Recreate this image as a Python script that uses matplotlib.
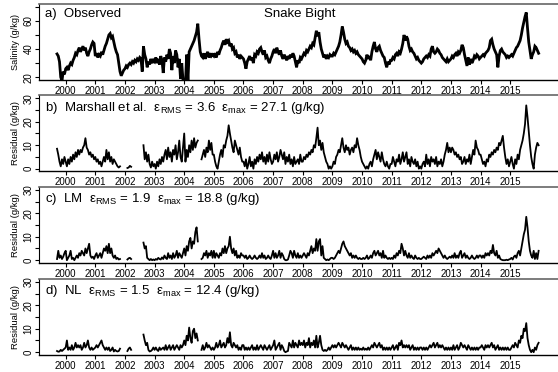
import numpy as np
import matplotlib
matplotlib.use("Agg")
import matplotlib.pyplot as plt

plt.rcParams["font.family"] = ["Liberation Sans", "DejaVu Sans"]
plt.rcParams["mathtext.fontset"] = "custom"
plt.rcParams["mathtext.rm"] = "Liberation Sans"
plt.rcParams["mathtext.it"] = "Liberation Sans:italic"
plt.rcParams["mathtext.bf"] = "Liberation Sans:bold"

nan = float("nan")

# semi-monthly series, first value at 1999 + 17/24
start_year = 1999 + 17 / 24
step = 1 / 24

observed = [
    36.5, 35, 31, 20, 17.5, 24, 22,  # 1999
    26, 27, 25, 28, 30, 29, 32, 34, 37, 36, 39, 41, 38, 40, 42, 39, 41, 37, 35, 38, 40, 43, 45, 44,
    35, 37, 34, 36, 35, 38, 36, 39, 42, 44, 47, 50, 51, 48, 49, 45, 41, 38, 36, 30, 24, 21, 23, 25,
    26, 28, 27, 29, 30, 29, 31, 30, 32, 31, 33, 32, 34, 33, 24, 42, 36, 33, 27, 31, 29, 33, 30, 32,
    31, 34, 30, 33, 29, 35, 32, 23, 34, 31, 36, 33, 40, 37, 25, 35, 30, 39, 36, 27, 33, 19, 30, 18,
    17, 16, 36, 17, 38, 40, 42, 44, 46, 49, 52, 58, 47, 38, 35, 34, 37, 33, 36, 38, 34, 37, 35, 36,
    35, 37, 34, 38, 36, 39, 41, 44, 46, 43, 47, 45, 46, 42, 44, 40, 41, 37, 38, 34, 36, 33, 35, 34,
    33, 30, 26, 31, 33, 35, 32, 34, 30, 36, 35, 38, 37, 40, 41, 38, 36, 39, 34, 35, 32, 30, 33, 35,
    38, 40, 37, 41, 38, 36, 39, 35, 33, 36, 34, 32, 35, 33, 36, 34, 37, 35, 31, 27, 32, 30, 34, 33,
    35, 37, 36, 39, 38, 40, 42, 41, 44, 43, 48, 53, 49, 52, 45, 40, 37, 34, 36, 33, 35, 34, 36, 35,
    35, 37, 36, 38, 40, 42, 45, 50, 56, 52, 47, 44, 45, 42, 41, 39, 40, 38, 39, 37, 38, 36, 35, 34,
    33, 31, 30, 32, 36, 33, 35, 32, 38, 42, 45, 40, 38, 41, 42, 39, 37, 35, 34, 30, 27, 31, 29, 32,
    32, 34, 33, 36, 37, 35, 38, 37, 40, 44, 50, 46, 49, 47, 42, 39, 40, 38, 37, 35, 33, 34, 32, 31,
    30, 31, 33, 34, 35, 34, 36, 35, 40, 42, 38, 37, 38, 40, 39, 37, 36, 34, 33, 32, 31, 33, 31, 32,
    33, 35, 34, 36, 37, 35, 38, 37, 39, 43, 41, 36, 32, 28, 34, 29, 33, 30, 32, 35, 34, 36, 35, 33,
    34, 35, 36, 35, 37, 38, 39, 41, 46, 47, 43, 40, 38, 36, 27, 35, 39, 40, 38, 37, 36, 34, 35, 34,
    35, 36, 35, 37, 39, 41, 42, 44, 46, 50, 55, 59, 63, 66, 55, 45, 39, 33, 36, 38, 42, 41, 39, 37,
]

resid_marshall = [
    8.5, 6, 3, 1, 4, 2, 5,  # 1999
    3, 1, 4, 2, 5, 3, 6, 4, 7, 5, 8, 6, 8, 7, 9, 10, 13, 9, 8, 6, 7, 5, 6, 4,
    5, 3, 4, 2, 3, 1, 3, 5, 3, 8, 4, 7, 3, 5, 2, 4, 3, 2, 1, 0.5, 1, nan, nan, nan,
    nan, nan, 0.3, 0.5, 1.2, 0.8, nan, nan, nan, nan, nan, nan, nan, nan, nan, 10, 4, 7, 3, 6, 2, 0.5, 3, 1,
    2, 0, 3, 1, 4, 2, 5, 3, 6, 8, 4, 9, 5, 7, 3, 8, 6, 10, 4, 7, 12, 5, 3, 9,
    15, 3, 8, 5, 10, 7, 12, 8, 13, 9, 11, 12, nan, nan, 4, 6, 8, 5, 9, 7, 12, 8, 11, 6,
    6, 3, 1, 0, 3, 6, 8, 5, 10, 9, 12, 14, 18.5, 15, 12, 9, 7, 12, 10, 8, 6, 9, 5, 3,
    3, 1, 4, 0, 2, 5, 1, 3, 0, 4, 2, 5, 3, 6, 4, 7, 3, 5, 2, 6, 3, 7, 4, 2,
    3, 6, 4, 7, 3, 5, 8, 6, 4, 7, 2, 5, 3, 6, 2, 4, 1, 5, 2, 3, 4, 2, 6, 3,
    3, 5, 4, 6, 5, 7, 6, 8, 7, 10, 9, 13, 17.5, 10, 12, 8, 11, 7, 5, 3, 2, 0, 1, 0,
    1, 3, 2, 5, 6, 8, 7, 10, 13, 9, 7, 10, 8, 9, 6, 8, 9, 7, 10, 9, 13, 10, 8, 5,
    3, 2, 1, 0, 1, 0, 2, 3, 1, 4, 6, 8, 4, 7, 5, 3, 7, 4, 2, 1, 3, 1, 0, 2,
    2, 5, 3, 1, 4, 3, 6, 2, 4, 7, 3, 5, 7, 2, 4, 1, 5, 3, 2, 4, 1, 3, 0, 1,
    0, 2, 3, 1, 6, 2, 4, 1, 5, 3, 4, 2, 5, 1, 3, 2, 4, 1, 3, 6, 8, 11, 7, 9,
    7, 9, 8, 6, 7, 5, 6, 4, 5, 2, 3, 5, 2, 4, 3, 6, 2, 5, 8, 6, 12, 9, 8, 6,
    6, 4, 2, 3, 1, 4, 3, 6, 5, 7, 6, 8, 7, 9, 8, 11, 10, 12, 14, 9, 5, 2, 4, 1,
    3, 5, 2, 0, 4, 2, 6, 4, 8, 10, 12, 15, 19, 27, 22, 16, 10, 5, 2, 0, 6, 9, 11, 10,
]

resid_lm = [
    0.5, 4, 1, 2, 0.5, 1.5, 3,  # 1999
    4, 0, 1, 2, 4, 0.5, 1, 0, 1, 2, 1, 3, 2, 4, 3, 2, 5, 3, 5, 7, 2, 1, 1.5, 0.5,
    2, 3, 1, 2, 3, 1, 3, 5, 4, 6, 3, 7, 3, 5, 2, 1, 2, 0.5, 1, 0.3, 0.5, nan, nan, nan,
    nan, nan, 0.3, 0.8, 1.0, 0.5, nan, nan, nan, nan, nan, nan, nan, nan, nan, 7.5, 5, 6, 1, 0.5, 0, 0.5, 0, 0.3,
    0, 0.5, 0.2, 1, 0.5, 0.3, 1.2, 0.5, 2, 1, 0.5, 3, 1, 2, 0.5, 3, 1, 2, 4, 1, 3, 2, 1, 3,
    5, 2, 6, 4, 8, 9.5, 5, 8, 7, 12, 14, 8, nan, nan, 0.5, 1, 3, 2, 4, 1, 3, 2, 4, 1,
    4, 1, 3, 2, 1, 3, 2, 5, 3, 6, 3, 5, 6, 10, 5, 3, 5, 2, 4, 1, 2, 1, 3, 2,
    2, 1, 2, 0.5, 1, 2, 1, 0.5, 1, 2, 1, 0.5, 1, 2, 1, 3, 1, 2, 0.5, 1, 2, 1, 0.5, 2,
    4, 1, 3, 1, 2, 4, 1, 3, 2, 0.5, 0, 0, 0.3, 2, 4, 3, 1, 4, 2, 1, 3, 1, 2, 1,
    2, 3, 2, 1, 3, 2, 4, 6, 3, 5, 4, 9, 4, 8, 9, 2, 6, 1, 0.5, 0, 0.3, 0, 0.5, 1,
    1, 0.5, 1, 2, 3, 4, 3, 5, 7, 8, 6, 5, 4, 3, 2, 3, 1, 2, 1, 2, 1, 0.5, 1, 0.5,
    0.5, 1, 0.5, 1, 2, 0.5, 1, 2, 1, 3, 4, 2, 3, 4, 2, 3, 1, 4, 1, 2, 1, 0.5, 1, 0.5,
    1, 0.5, 2, 1, 3, 2, 4, 3, 7, 5, 2, 4, 2, 1, 3, 1, 2, 1, 0.5, 2, 1, 0.5, 1, 0.5,
    0.5, 1, 1.5, 1, 0.5, 2, 1, 2, 1, 3, 2, 3, 4, 3, 5, 4, 3, 2, 1, 2, 1, 0.5, 1, 1.5,
    1, 2, 1, 3, 1, 2, 1, 3, 4, 1, 2, 3, 1, 2, 1, 0.5, 1, 2, 1, 0.5, 1, 2, 1, 2,
    2, 1, 2, 1, 3, 2, 3, 2, 4, 3, 6.5, 3, 2, 4, 1, 2, 0.5, 0.2, 0, 0, 0, 0.2, 0, 0.3,
    0.5, 1, 0.3, 1.5, 2, 1, 3, 4, 2, 5, 8, 11, 13, 18.5, 14, 8, 4, 2, 1, 4, 0.5, 3, 0.5, 4,
]

resid_nl = [
    0.5, 0.2, 0.3, 1, 0.5, 1, 1.5,  # 1999
    2, 5, 1, 2, 1, 3, 1, 2, 4, 2, 3, 2, 3, 1, 2, 4, 2, 3, 5, 2, 1, 2, 1, 1.5,
    2, 3, 2, 3, 4, 5, 3, 2, 1, 2, 1, 2, 0.5, 1, 2, 0.3, 1, 0.5, 0.3, 0.5, 1.5, nan, nan, nan,
    nan, nan, 0.5, 1.5, 2, 1, nan, nan, nan, nan, nan, nan, nan, nan, nan, 7.5, 5, 3, 4, 1, 0.3, 0.5, 1, 2,
    1, 2, 1, 0.5, 2, 1, 1.5, 2, 1, 3, 1, 2, 3, 1, 2, 3, 1, 2, 3, 2, 1, 3, 2, 3,
    5, 3, 7, 5, 10.5, 6, 4, 9, 10, 6, 8, 5, nan, nan, 1, 3, 1, 2, 4, 2, 3, 2, 1, 2,
    1, 2, 4, 2, 3, 5, 2, 3, 4, 2, 3, 6, 4, 8.5, 3, 2, 4, 3, 2, 3, 1, 2, 1, 3,
    3, 1, 2, 1, 2, 1, 2, 3, 1, 2, 1, 3, 1, 2, 3, 2, 1, 3, 2, 1, 2, 3, 1, 2,
    3, 5, 1, 2, 3, 4, 1, 3, 2, 0.5, 0, 0.3, 0.5, 4, 3, 2, 5, 2, 4, 3, 2, 5, 3, 4,
    3, 5, 2, 4, 3, 6, 2, 4, 3, 5, 2, 7, 2, 4, 7, 3, 1, 0.5, 1, 0.5, 1, 2, 1, 2,
    3, 2, 3, 2, 3, 4, 3, 2, 4, 3, 2, 3, 2, 1, 2, 3, 1, 2, 1, 2, 1, 2, 1, 1.5,
    1, 2, 1, 1.5, 1, 2, 1, 2, 3, 2, 4, 3, 2, 3, 4, 2, 3, 1, 2, 1, 2, 1, 2, 1,
    2, 3, 1, 2, 3, 1, 4, 3, 5, 2, 3, 2, 3, 2, 3, 1, 2, 3, 1, 2, 1, 2, 1, 2,
    2, 1, 2, 1, 2, 1, 2, 3, 2, 3, 4, 2, 3, 4, 2, 3, 2, 3, 2, 1, 2, 1, 2, 1,
    2, 1, 3, 1, 2, 3, 1, 2, 4, 3, 2, 3, 2, 1, 3, 2, 1, 2, 1, 2, 1, 2, 1, 2,
    2, 3, 2, 1, 3, 2, 3, 2, 3, 4, 2, 3, 1, 2, 3, 1, 2, 1, 2, 1, 2, 1, 2, 1,
    1, 2, 3, 2, 4, 3, 2, 5, 4, 7, 6, 10, 9, 12.4, 6, 3, 1, 0, 1, 0, 2, 1, 3, 4,
]

years = list(range(2000, 2016))
panel_labels = [
    "a)  Observed",
    r"b)  Marshall et al.  $\mathrm{ε_{RMS}}$ = 3.6  $\mathrm{ε_{max}}$ = 27.1 (g/kg)",
    r"c)  LM  $\mathrm{ε_{RMS}}$ = 1.9  $\mathrm{ε_{max}}$ = 18.8 (g/kg)",
    r"d)  NL  $\mathrm{ε_{RMS}}$ = 1.5  $\mathrm{ε_{max}}$ = 12.4 (g/kg)",
]
series = [observed, resid_marshall, resid_lm, resid_nl]

W, H = 558, 372
fig = plt.figure(figsize=(W / 100, H / 100), dpi=100)

tops = [4, 95.5, 187, 279]
ph = 76
axl, axw = 39, 521

for i, (vals, lab) in enumerate(zip(series, panel_labels)):
    ax = fig.add_axes([axl / W, 1 - (tops[i] + ph) / H, axw / W, ph / H])
    vals = np.array(vals, dtype=float)
    t = start_year + step * np.arange(len(vals))
    if i == 0:
        ax.plot(t, vals, color="black", lw=2.0, solid_joinstyle="miter")
        ax.set_ylim(18, 72)
        ax.set_yticks([20, 40, 60])
        ax.set_yticks([30, 50, 70], minor=True)
        ax.set_ylabel("Salinity (g/kg)", fontsize=6.6)
        ax.text(0.5, 0.945, "Snake Bight", transform=ax.transAxes,
                fontsize=9.5, ha="center", va="top")
    else:
        ax.plot(t, vals, color="black", lw=1.3)
        ax.set_ylim(-1.2, 31.2)
        ax.set_yticks([0, 10, 20, 30])
        ax.set_yticks([5, 15, 25], minor=True)
        ax.set_ylabel("Residual (g/kg)", fontsize=6.8)
    ax.yaxis.set_label_coords(-19 / axw, 0.5)
    ax.text(6 / axw, 0.945, lab, transform=ax.transAxes,
            fontsize=9.5, ha="left", va="top")
    ax.set_xlim(1999.1, 2016.68)
    ax.set_xticks(years)
    ax.set_xticklabels([str(y) for y in years])
    ax.tick_params(axis="both", which="both", direction="out", length=3,
                   width=0.8, labelsize=7, pad=1)
    for lbl in ax.get_yticklabels():
        lbl.set_rotation(90)
        lbl.set_va("center")
    ax.spines["right"].set_visible(False)
    ax.spines["top"].set_color("#666666")
    ax.spines["top"].set_linewidth(1.2)
    ax.spines["left"].set_linewidth(0.8)
    ax.spines["bottom"].set_linewidth(1.0)

fig.savefig("out.png", dpi=100)
